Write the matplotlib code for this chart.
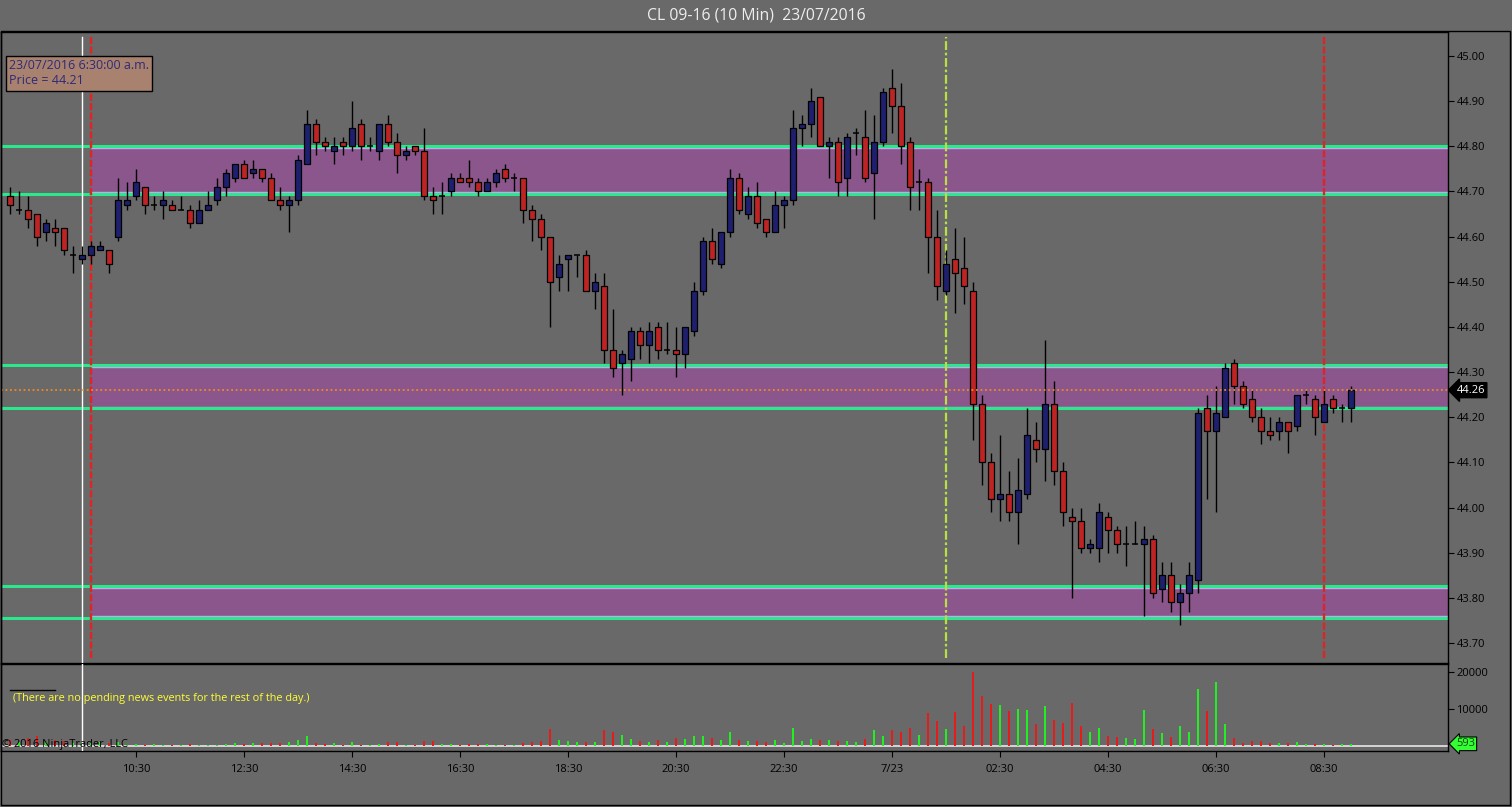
import matplotlib
matplotlib.use('Agg')
import matplotlib.pyplot as plt
from matplotlib.patches import Rectangle
import numpy as np
import pandas as pd

plt.rcParams['font.family'] = ['Open Sans', 'DejaVu Sans']

# 10 min bars, CL 09-16
times = pd.date_range('2016-07-22 08:10', periods=150, freq='10min')

opens = [44.69, 44.66, 44.66, 44.65, 44.61, 44.62, 44.62, 44.56, 44.55, 44.56,
         44.57, 44.57, 44.60, 44.67, 44.69, 44.71, 44.67, 44.67, 44.67, 44.66,
         44.66, 44.63, 44.66, 44.68, 44.71, 44.73, 44.76, 44.74, 44.75, 44.73,
         44.68, 44.67, 44.68, 44.76, 44.85, 44.81, 44.79, 44.81, 44.80, 44.85,
         44.80, 44.79, 44.85, 44.81, 44.78, 44.80, 44.79, 44.69, 44.69, 44.70,
         44.73, 44.73, 44.72, 44.70, 44.72, 44.75, 44.73, 44.73, 44.66, 44.64,
         44.60, 44.51, 44.55, 44.56, 44.56, 44.48, 44.49, 44.35, 44.32, 44.33,
         44.39, 44.36, 44.40, 44.35, 44.35, 44.34, 44.39, 44.48, 44.59, 44.54,
         44.61, 44.73, 44.65, 44.69, 44.64, 44.61, 44.67, 44.68, 44.84, 44.85,
         44.91, 44.80, 44.81, 44.73, 44.83, 44.82, 44.74, 44.81, 44.93, 44.89,
         44.81, 44.72, 44.72, 44.60, 44.48, 44.55, 44.53, 44.48, 44.23, 44.10,
         44.02, 44.03, 43.99, 44.03, 44.15, 44.13, 44.23, 44.08, 43.98, 43.97,
         43.91, 43.91, 43.98, 43.95, 43.92, 43.92, 43.92, 43.93, 43.82, 43.85,
         43.79, 43.81, 43.84, 44.22, 44.17, 44.20, 44.32, 44.27, 44.24, 44.20,
         44.17, 44.17, 44.19, 44.18, 44.25, 44.24, 44.19, 44.24, 44.22, 44.22]
highs = [44.71, 44.70, 44.69, 44.65, 44.64, 44.64, 44.62, 44.58, 44.58, 44.59,
         44.59, 44.57, 44.73, 44.72, 44.75, 44.71, 44.69, 44.70, 44.68, 44.69,
         44.67, 44.68, 44.70, 44.73, 44.75, 44.76, 44.77, 44.77, 44.75, 44.74,
         44.71, 44.69, 44.78, 44.88, 44.86, 44.82, 44.82, 44.82, 44.90, 44.86,
         44.82, 44.85, 44.87, 44.83, 44.80, 44.80, 44.84, 44.71, 44.72, 44.74,
         44.74, 44.77, 44.73, 44.73, 44.75, 44.76, 44.74, 44.73, 44.67, 44.65,
         44.60, 44.56, 44.56, 44.56, 44.57, 44.52, 44.52, 44.44, 44.35, 44.40,
         44.40, 44.41, 44.41, 44.41, 44.40, 44.40, 44.50, 44.60, 44.62, 44.61,
         44.75, 44.74, 44.71, 44.72, 44.64, 44.70, 44.69, 44.88, 44.87, 44.93,
         44.91, 44.82, 44.82, 44.83, 44.84, 44.88, 44.87, 44.93, 44.97, 44.94,
         44.82, 44.75, 44.73, 44.66, 44.57, 44.62, 44.60, 44.50, 44.25, 44.12,
         44.16, 44.08, 44.11, 44.22, 44.19, 44.37, 44.28, 44.10, 44.00, 44.00,
         43.93, 44.01, 43.99, 43.96, 43.96, 43.97, 43.96, 43.94, 43.88, 43.88,
         43.83, 43.88, 44.22, 44.25, 44.27, 44.32, 44.33, 44.28, 44.26, 44.22,
         44.20, 44.20, 44.19, 44.25, 44.26, 44.25, 44.26, 44.25, 44.23, 44.27]
lows = [44.65, 44.65, 44.62, 44.58, 44.59, 44.58, 44.56, 44.52, 44.54, 44.54,
        44.57, 44.52, 44.59, 44.66, 44.68, 44.65, 44.66, 44.64, 44.66, 44.66,
        44.62, 44.63, 44.66, 44.67, 44.69, 44.72, 44.73, 44.73, 44.72, 44.68,
        44.66, 44.61, 44.67, 44.76, 44.78, 44.79, 44.76, 44.78, 44.79, 44.77,
        44.79, 44.77, 44.80, 44.74, 44.77, 44.78, 44.68, 44.65, 44.65, 44.69,
        44.72, 44.71, 44.69, 44.70, 44.71, 44.72, 44.70, 44.63, 44.59, 44.57,
        44.40, 44.48, 44.48, 44.51, 44.48, 44.44, 44.32, 44.29, 44.25, 44.28,
        44.33, 44.32, 44.33, 44.34, 44.29, 44.31, 44.38, 44.47, 44.54, 44.53,
        44.60, 44.65, 44.64, 44.62, 44.60, 44.61, 44.62, 44.67, 44.80, 44.82,
        44.80, 44.73, 44.69, 44.69, 44.78, 44.72, 44.64, 44.80, 44.83, 44.76,
        44.66, 44.66, 44.52, 44.46, 44.47, 44.43, 44.45, 44.15, 44.05, 43.99,
        43.97, 43.97, 43.92, 44.02, 44.10, 44.06, 44.05, 43.96, 43.80, 43.90,
        43.90, 43.88, 43.90, 43.90, 43.87, 43.92, 43.76, 43.80, 43.79, 43.77,
        43.74, 43.77, 43.81, 44.02, 43.99, 44.20, 44.23, 44.22, 44.19, 44.14,
        44.15, 44.15, 44.12, 44.17, 44.23, 44.16, 44.19, 44.21, 44.19, 44.19]
closes = [44.67, 44.66, 44.64, 44.60, 44.63, 44.61, 44.57, 44.56, 44.56, 44.58,
          44.58, 44.54, 44.68, 44.68, 44.72, 44.67, 44.67, 44.68, 44.66, 44.66,
          44.63, 44.66, 44.67, 44.71, 44.74, 44.76, 44.73, 44.75, 44.73, 44.68,
          44.67, 44.68, 44.77, 44.85, 44.81, 44.80, 44.80, 44.80, 44.84, 44.80,
          44.80, 44.85, 44.81, 44.78, 44.79, 44.79, 44.69, 44.68, 44.69, 44.73,
          44.72, 44.72, 44.70, 44.72, 44.74, 44.73, 44.73, 44.66, 44.64, 44.60,
          44.50, 44.54, 44.56, 44.56, 44.48, 44.50, 44.35, 44.31, 44.34, 44.39,
          44.36, 44.39, 44.35, 44.35, 44.34, 44.40, 44.48, 44.59, 44.55, 44.61,
          44.73, 44.66, 44.69, 44.63, 44.61, 44.67, 44.68, 44.84, 44.85, 44.90,
          44.80, 44.81, 44.72, 44.82, 44.83, 44.73, 44.81, 44.92, 44.89, 44.80,
          44.71, 44.72, 44.60, 44.49, 44.54, 44.52, 44.49, 44.23, 44.10, 44.02,
          44.03, 43.99, 44.04, 44.16, 44.13, 44.23, 44.08, 43.99, 43.97, 43.91,
          43.92, 43.99, 43.95, 43.92, 43.92, 43.92, 43.93, 43.81, 43.85, 43.79,
          43.81, 43.85, 44.21, 44.17, 44.21, 44.31, 44.27, 44.23, 44.20, 44.17,
          44.16, 44.19, 44.17, 44.25, 44.25, 44.20, 44.23, 44.22, 44.22, 44.26]
volumes = [1500, 1200, 2100, 2700, 1000, 1600, 1400, 800, 900, 700,
           1100, 800, 1200, 400, 500, 300, 500, 300, 400, 300,
           500, 300, 300, 400, 600, 700, 600, 700, 800, 900,
           800, 1200, 1500, 2700, 800, 600, 700, 300, 1000, 400,
           300, 600, 1100, 1100, 300, 300, 1400, 1400, 600, 600,
           400, 500, 600, 500, 400, 300, 400, 800, 1000, 1300,
           4500, 1600, 1450, 1000, 1200, 1000, 4400, 3700, 3000, 1900,
           1450, 1200, 1600, 1200, 2300, 1900, 2700, 2700, 2100, 1600,
           3700, 1600, 1450, 1450, 1200, 1600, 900, 4900, 1450, 1900,
           1600, 1600, 1450, 1400, 1200, 1900, 4400, 2700, 4400, 3800,
           4800, 3000, 8900, 6800, 4500, 9200, 5500, 20000, 13600, 11500,
           11200, 9600, 10100, 9800, 5900, 10900, 7100, 6200, 11800, 5300,
           3900, 4800, 2700, 2500, 2300, 1900, 9800, 4700, 3600, 2500,
           5300, 3900, 15500, 9600, 17300, 6000, 2100, 900, 1450, 1450,
           900, 900, 900, 1200, 550, 550, 550, 300, 550, 593]

# zones (top, bottom)
zones = [(44.80, 44.695), (44.315, 44.22), (43.826, 43.756)]
last_price = 44.26

tick_times = ['10:30', '12:30', '14:30', '16:30', '18:30', '20:30', '22:30',
              '00:30', '02:30', '04:30', '06:30', '08:30']

o = np.array(opens); h = np.array(highs); l = np.array(lows); c = np.array(closes)
v = np.array(volumes)
x = np.arange(len(times))
up = c >= o

BG = '#696969'
W, H = 1512, 807
fig = plt.figure(figsize=(W / 100, H / 100), dpi=100, facecolor=BG)
ax = fig.add_axes([1 / W, (H - 663) / H, 1447 / W, 631 / H], facecolor=BG)
axv = fig.add_axes([1 / W, (H - 751) / H, 1447 / W, 87 / H], facecolor=BG, sharex=ax)

xlim = (-1.0, (1448 - 10) / 9)
ax.set_xlim(*xlim)
ax.set_ylim(43.656, 45.053)
axv.set_ylim(-1360, 22250)


def pos(t):
    return int(np.where(times == pd.Timestamp(t))[0][0])


# zones
zone_start = pos('2016-07-22 09:40')
for top, bot in zones:
    ax.fill_between([zone_start, xlim[1]], bot, top, color='#8B568B', zorder=1, lw=0)
    ax.hlines([top - 0.003, bot + 0.003], zone_start, xlim[1], color='#C8A8F0', lw=1, zorder=2)
    ax.axhline(top, color='#2BE88C', lw=2.2, zorder=2)
    ax.axhline(bot, color='#2BE88C', lw=2.2, zorder=2)

# vertical markers
for t in ['2016-07-22 09:40', '2016-07-23 08:30']:
    ax.axvline(pos(t), ymin=0.008, ymax=0.992, color='#E02424', lw=1.7,
               ls=(0, (3, 1)), zorder=3)
ax.axvline(pos('2016-07-23 01:30'), ymin=0.008, ymax=0.992, color='#B8E045',
           lw=1.6, ls=(0, (4, 1.2, 1.2, 1.2)), zorder=3)
cross = pos('2016-07-22 09:30')
ax.axvline(cross, ymin=0, ymax=0.992, color='white', lw=1, zorder=3)
axv.axvline(cross, color='white', lw=1, zorder=3)

# candles
ax.vlines(x, l, h, color='black', lw=1, zorder=4)
body = np.abs(c - o)
flat = body < 1e-9
ax.bar(x[~flat], body[~flat], bottom=np.minimum(o, c)[~flat], width=0.72,
       color=np.where(up, '#1F1F70', '#BE2424')[~flat], edgecolor='black',
       lw=0.9, zorder=5)
ax.hlines(c[flat], x[flat] - 0.36, x[flat] + 0.36, color='black', lw=1.1, zorder=5)

ax.axhline(last_price, color='#F08A20', lw=1.3, ls=(0, (1, 1.5)), zorder=6)

# volume
axv.axhline(0, color='#E8E8E8', lw=1.2, zorder=1)
axv.bar(x, v, width=0.26, color=np.where(up, '#22EE22', '#E41C1C'), zorder=2)

# axes styling
for a in (ax, axv):
    for s in a.spines.values():
        s.set_color('black')
        s.set_linewidth(1)
    a.yaxis.tick_right()
    a.tick_params(axis='y', direction='out', length=4, color='black',
                  labelcolor='black', labelsize=8, pad=2)
ax.set_yticks(np.round(np.arange(43.7, 45.01, 0.1), 2))
ax.yaxis.set_major_formatter(matplotlib.ticker.FormatStrFormatter('%.2f'))
ax.tick_params(axis='x', bottom=False, labelbottom=False)
axv.set_yticks([10000, 20000])

tpos = []
tlab = []
for i, t in enumerate(times):
    s = t.strftime('%H:%M')
    if s in tick_times and i > 6:
        tpos.append(i)
        tlab.append('7/23' if s == '00:30' else s)
axv.set_xticks(tpos)
axv.set_xticklabels(tlab)
axv.tick_params(axis='x', direction='out', length=4, color='black',
                labelcolor='black', labelsize=8, pad=5)

# price markers on the axis
ax.annotate('%.2f' % last_price, xy=(1.0, last_price), xycoords=('axes fraction', 'data'),
            xytext=(6, 0), textcoords='offset points', ha='left', va='center',
            fontsize=8, color='white',
            bbox=dict(boxstyle='larrow,pad=0.18', fc='black', ec='black'))
axv.annotate('593', xy=(1.0, volumes[-1]), xycoords=('axes fraction', 'data'),
             xytext=(6, 0), textcoords='offset points', ha='left', va='center',
             fontsize=8, color='#0E4A0E',
             bbox=dict(boxstyle='larrow,pad=0.12', fc='#33FF33', ec='black', lw=0.8))

# text
fig.text(0.5, 1 - 16 / H, 'CL 09-16 (10 Min)  23/07/2016', ha='center', va='center',
         fontsize=11.3, color='#EEEEEE')
ax.text(8 / 1447, 1 - 27 / 631, '23/07/2016 6:30:00 a.m.\nPrice = 44.21',
        transform=ax.transAxes, ha='left', va='top', fontsize=9,
        color='#2E2A78', linespacing=1.25,
        bbox=dict(boxstyle='square,pad=0.25', fc='#A8826E', ec='black', lw=1))
axv.plot([10, 55], [1 - 26 / 87] * 2, color='black', lw=1,
         transform=matplotlib.transforms.blended_transform_factory(
             fig.dpi_scale_trans + matplotlib.transforms.Affine2D().scale(1 / 100), axv.transAxes))
axv.text(12 / 1447, 1 - 35 / 87, '(There are no pending news events for the rest of the day.)',
         transform=axv.transAxes, ha='left', va='center', fontsize=7.8,
         color='#FFFF33')
axv.text(1 / 1447, 1 - 80 / 87, '\u00a9 2016 NinjaTrader, LLC', transform=axv.transAxes,
         ha='left', va='center', fontsize=7.9, color='black', zorder=5)

# outer frame
fig.patches.append(Rectangle((0.5 / W, 1 - 805 / H), 1509 / W, 774 / H,
                             transform=fig.transFigure, fill=False, ec='black', lw=1))

fig.savefig('out.png', dpi=100, facecolor=BG)
